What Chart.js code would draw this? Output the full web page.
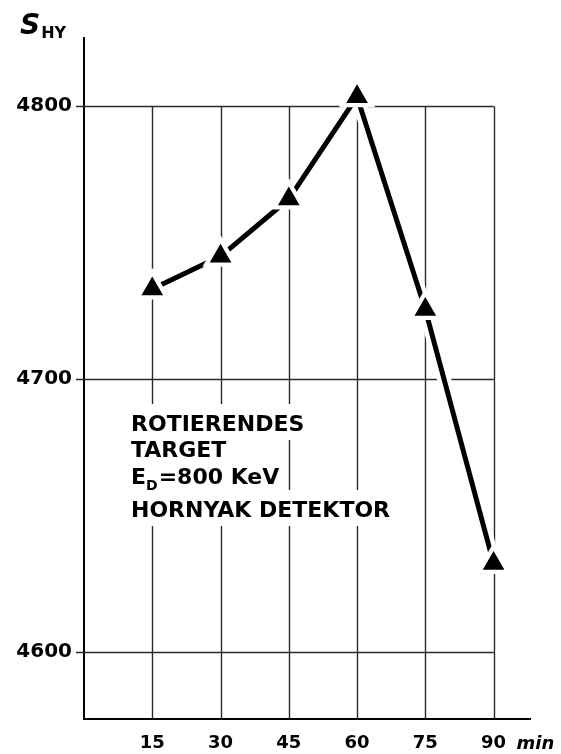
<!DOCTYPE html>
<html><head><meta charset="utf-8">
<script src="https://cdn.jsdelivr.net/npm/chart.js@4/dist/chart.umd.min.js"></script>
<style>html,body{margin:0;padding:0;background:#fff;}</style>
</head><body>
<canvas id="c" width="561" height="754"></canvas>
<script>
// ---- data ----
const minutes = [15, 30, 45, 60, 75, 90];
const sHyValues = [4733, 4745, 4766, 4803.5, 4725.5, 4632.5];
const xTickValues = [15, 30, 45, 60, 75, 90];
const yTickValues = [4600, 4700, 4800];
const xUnitLabel = 'min';
const yTitleMain = 'S';
const yTitleSub = 'HY';
const noteLines = [
  [['ROTIERENDES', false]],
  [['TARGET', false]],
  [['E', false], ['D', true], ['=800 KeV', false]],
  [['HORNYAK DETEKTOR', false]]
];

const points = minutes.map((m, i) => ({ x: m, y: sHyValues[i] }));
const FONT = '"DejaVu Sans", sans-serif';

const decorPlugin = {
  id: 'decor',
  beforeDatasetsDraw(chart) {
    const { ctx, scales: { x, y }, chartArea } = chart;
    ctx.save();
    // grid lines limited to the 0..90 / ..4800 frame
    ctx.strokeStyle = '#2a2a2a';
    ctx.lineWidth = 1.4;
    const top = y.getPixelForValue(yTickValues[yTickValues.length - 1]);
    const right = x.getPixelForValue(xTickValues[xTickValues.length - 1]);
    ctx.beginPath();
    xTickValues.forEach(v => {
      const px = Math.round(x.getPixelForValue(v)) + 0.5;
      ctx.moveTo(px, top); ctx.lineTo(px, chartArea.bottom);
    });
    yTickValues.forEach(v => {
      const py = Math.round(y.getPixelForValue(v)) + 0.5;
      ctx.moveTo(chartArea.left - 8, py); ctx.lineTo(right, py);
    });
    ctx.stroke();

    // note text block with white background
    const baselines = [431, 457, 484, 517];
    const left = 131;
    noteLines.forEach((segs, i) => {
      let w = 0;
      segs.forEach(([t, sub]) => {
        ctx.font = (sub ? 'bold 14px ' : 'bold 22px ') + FONT;
        w += ctx.measureText(t).width + (sub ? 1 : 0);
      });
      ctx.fillStyle = '#fff';
      ctx.fillRect(left - 6, baselines[i] - 27, w + 14, 36);
    });
    ctx.fillStyle = '#000';
    ctx.textBaseline = 'alphabetic';
    ctx.textAlign = 'left';
    noteLines.forEach((segs, i) => {
      let cx = left;
      segs.forEach(([t, sub]) => {
        ctx.font = (sub ? 'bold 14px ' : 'bold 22px ') + FONT;
        ctx.fillText(t, cx, baselines[i] + (sub ? 6 : 0));
        cx += ctx.measureText(t).width + (sub ? 1 : 0);
      });
    });

    // y axis title S_HY
    ctx.font = 'italic bold 28px ' + FONT;
    ctx.fillText(yTitleMain, 20, 34);
    const sw = ctx.measureText(yTitleMain).width;
    ctx.font = 'bold 16px ' + FONT;
    ctx.fillText(yTitleSub, 20 + sw + 1, 38);

    // unit label after the last x tick
    ctx.font = 'italic bold 18px ' + FONT;
    ctx.fillText(xUnitLabel, x.getPixelForValue(xTickValues[xTickValues.length - 1]) + 23, 749);
    ctx.restore();
  }
};

new Chart(document.getElementById('c'), {
  type: 'line',
  data: {
    datasets: [
      { data: points, borderColor: '#fff', borderWidth: 14, pointRadius: 0, order: 4, fill: false },
      { data: points, borderColor: '#000', borderWidth: 5, pointRadius: 0, order: 3, fill: false, borderCapStyle: 'round', borderJoinStyle: 'round' },
      { data: points, showLine: false, pointStyle: 'triangle', pointRadius: 21, pointBackgroundColor: '#fff', pointBorderWidth: 0, order: 2 },
      { data: points, showLine: false, pointStyle: 'triangle', pointRadius: 12.5, pointBackgroundColor: '#000', pointBorderWidth: 0, order: 1 }
    ]
  },
  options: {
    responsive: false,
    animation: false,
    devicePixelRatio: 1,
    layout: { padding: { left: 0, right: 31, top: 38, bottom: 0 }, autoPadding: false },
    plugins: { legend: { display: false }, tooltip: { enabled: false } },
    elements: { line: { tension: 0 } },
    scales: {
      x: {
        type: 'linear', min: 0, max: 98,
        grid: { display: false, drawTicks: false },
        border: { display: true, color: '#000', width: 2 },
        afterBuildTicks: s => { s.ticks = xTickValues.map(v => ({ value: v })); },
        afterFit: s => { s.height = 35; },
        ticks: { color: '#000', padding: 14, maxRotation: 0, callback: v => String(v), font: { family: FONT, weight: 'bold', size: 18 } }
      },
      y: {
        type: 'linear', min: 4575.5, max: 4825,
        grid: { display: false, drawTicks: false },
        border: { display: true, color: '#000', width: 2 },
        afterBuildTicks: s => { s.ticks = yTickValues.map(v => ({ value: v })); },
        afterFit: s => { s.width = 84; },
        ticks: { color: '#000', padding: 12, callback: v => String(v), font: { family: FONT, weight: 'bold', size: 20 } }
      }
    }
  },
  plugins: [decorPlugin]
});
</script>
</body></html>
